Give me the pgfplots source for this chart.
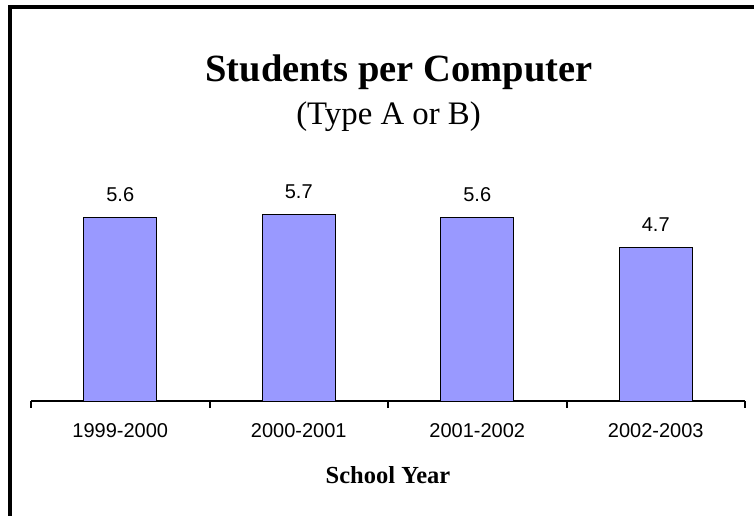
\documentclass[border=0pt]{standalone}
\usepackage{pgfplots}
\pgfplotsset{compat=1.18}
\usepackage{fontspec}
\setmainfont{Liberation Serif}
\newfontfamily\arial{Liberation Sans}
\definecolor{barblue}{HTML}{9999FF}
\begin{document}
\begin{tikzpicture}[x=1pt,y=1pt]
\useasboundingbox (0,0) rectangle (754,516);
\draw[line width=3.5pt] (10,-5) -- (10,509) -- (760,509);
\node[anchor=base,font=\fontsize{38.5}{40}\selectfont\bfseries] at (399,434) {Students per Computer};
\node[anchor=base,font=\fontsize{32.8}{36}\selectfont] at (388.5,391) {(Type A or B)};
\begin{axis}[
  at={(31pt,115pt)}, anchor=south west,
  scale only axis, width=714pt, height=261.6pt,
  xmin=-0.5, xmax=3.5, ymin=0, ymax=8,
  hide y axis,
  axis x line*=bottom,
  x axis line style={-, line width=2pt},
  xtick={0,1,2,3},
  xticklabels={1999-2000,2000-2001,2001-2002,2002-2003},
  xtick style={draw=none},
  major tick length=0pt,
  xticklabel style={font=\arial\fontsize{20}{24}\selectfont, anchor=base, yshift=-36pt},
  extra x ticks={-0.5,0.5,1.5,2.5,3.5},
  extra x tick labels={},
  extra x tick style={xtick style={draw=black, line width=2pt}, major tick length=7pt, xtick align=outside},
  xtick pos=bottom,
  xlabel={School Year},
  xlabel style={at={(axis description cs:0.5,0)}, anchor=base, yshift=-82pt, font=\fontsize{24.5}{28}\selectfont\bfseries},
  ybar, bar width=73pt,
  /pgf/number format/fixed, /pgf/number format/precision=1, /pgf/number format/fixed zerofill,
  /pgf/number format/assume math mode=true,
  nodes near coords,
  every node near coord/.append style={font=\arial\fontsize{20}{24}\selectfont, anchor=base, yshift=16pt},
  clip=false,
]
\addplot[fill=barblue, draw=black, line width=0.8pt] coordinates {(0,5.6) (1,5.7) (2,5.6) (3,4.7)};
\end{axis}
\end{tikzpicture}
\end{document}
